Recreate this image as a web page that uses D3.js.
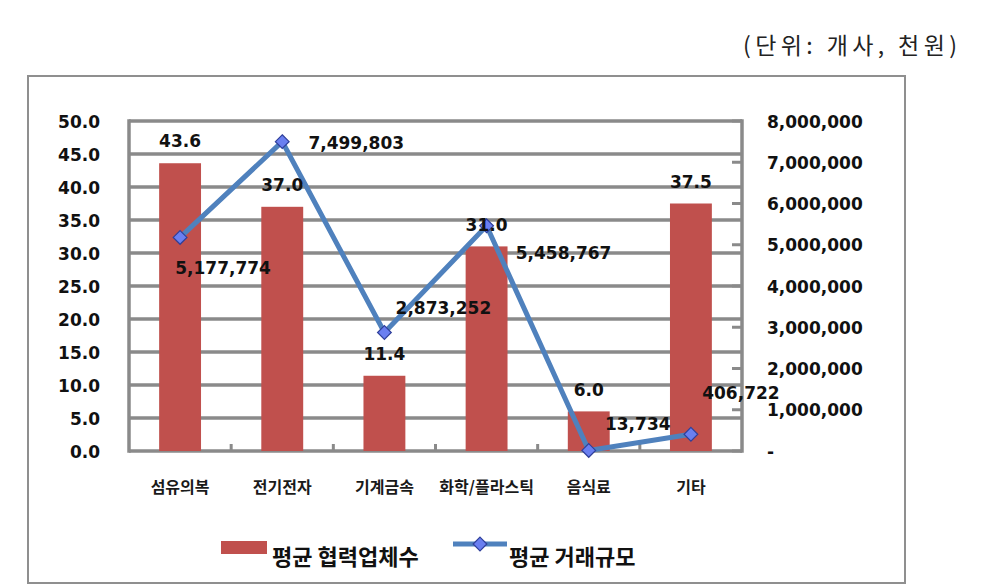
<!DOCTYPE html>
<html>
<head>
<meta charset="utf-8">
<script src="https://cdn.jsdelivr.net/npm/d3@7"></script>
<style>
  body { margin: 0; background: #fff; }
  svg { display: block; }
  .num { font-family: "DejaVu Sans", Verdana, sans-serif; font-weight: bold; font-size: 17px; fill: #111; }
  .kr { font-family: "Noto Sans CJK KR", sans-serif; fill: #111; }
</style>
</head>
<body>
<script>
// data
var categories = ["섬유의복", "전기전자", "기계금속", "화학/플라스틱", "음식료", "기타"];
var partnerCount = [43.6, 37.0, 11.4, 31.0, 6.0, 37.5];           // 평균 협력업체수 (개사)
var tradeSize = [5177774, 7499803, 2873252, 5458767, 13734, 406722]; // 평균 거래규모 (천원)
var leftTicks = [0, 5, 10, 15, 20, 25, 30, 35, 40, 45, 50];
var rightTicks = [0, 1000000, 2000000, 3000000, 4000000, 5000000, 6000000, 7000000, 8000000];
var seriesNames = ["평균 협력업체수", "평균 거래규모"];

// label offsets for the line values (label centre relative to point)
var lineLabelOffset = [[43, 30], [74, 1], [59, -25], [77, 27], [49, -27], [50, -41]];

var W = 992, H = 587;
var plot = {left: 129, right: 742, top: 121, bottom: 451};
var gridColor = "#8a8a8a", barColor = "#c0504d", lineColor = "#4f81bd";

var svg = d3.select("body").append("svg")
    .attr("width", W)
    .attr("height", H);

// outer frame
svg.append("rect")
    .attr("x", 28).attr("y", 76)
    .attr("width", 877).attr("height", 507)
    .attr("fill", "none")
    .attr("stroke", "#8f8f8f")
    .attr("stroke-width", 2);

// unit note
svg.append("text")
    .attr("x", 743).attr("y", 54)
    .attr("textLength", 214)
    .attr("lengthAdjust", "spacing")
    .style("font-family", "\"Noto Sans CJK KR\", sans-serif")
    .style("font-size", "23px")
    .style("fill", "#222")
    .text("(단위: 개사, 천원)");

var x = d3.scaleBand()
    .domain(categories)
    .range([plot.left, plot.right])
    .paddingInner(0.59)
    .paddingOuter(0.295);

var yL = d3.scaleLinear().domain([0, 50]).range([plot.bottom, plot.top]);
var yR = d3.scaleLinear().domain([0, 8000000]).range([plot.bottom, plot.top]);

// gridlines
svg.append("g")
    .selectAll("line")
    .data(leftTicks)
    .enter().append("line")
    .attr("x1", plot.left).attr("x2", plot.right)
    .attr("y1", function(d) { return yL(d); })
    .attr("y2", function(d) { return yL(d); })
    .attr("stroke", gridColor)
    .attr("stroke-width", 3.5);

// plot area sides
svg.append("g")
    .selectAll("line")
    .data([plot.left, plot.right])
    .enter().append("line")
    .attr("x1", function(d) { return d; })
    .attr("x2", function(d) { return d; })
    .attr("y1", plot.top - 1.75).attr("y2", plot.bottom + 1.75)
    .attr("stroke", gridColor)
    .attr("stroke-width", 3.5);

// category ticks
svg.append("g")
    .selectAll("line")
    .data(categories.slice(1))
    .enter().append("line")
    .attr("x1", function(d) { return x(d) - x.step() * x.paddingInner() / 2; })
    .attr("x2", function(d) { return x(d) - x.step() * x.paddingInner() / 2; })
    .attr("y1", plot.bottom).attr("y2", plot.bottom - 7)
    .attr("stroke", gridColor)
    .attr("stroke-width", 3);

// right axis ticks
svg.append("g")
    .selectAll("line")
    .data(rightTicks)
    .enter().append("line")
    .attr("x1", plot.right - 10).attr("x2", plot.right)
    .attr("y1", function(d) { return yR(d); })
    .attr("y2", function(d) { return yR(d); })
    .attr("stroke", gridColor)
    .attr("stroke-width", 3);

// left axis labels
var leftAxis = d3.axisLeft(yL)
    .tickValues(leftTicks)
    .tickFormat(d3.format(".1f"))
    .tickSize(0)
    .tickPadding(29);
var gL = svg.append("g")
    .attr("transform", "translate(" + plot.left + ",0)")
    .call(leftAxis);
gL.select(".domain").remove();
gL.selectAll("text").attr("class", "num").attr("dy", "0.36em");

// right axis labels
var rightAxis = d3.axisRight(yR)
    .tickValues(rightTicks)
    .tickFormat(function(d) { return d === 0 ? "-" : d3.format(",")(d); })
    .tickSize(0)
    .tickPadding(25);
var gR = svg.append("g")
    .attr("transform", "translate(" + plot.right + ",0)")
    .call(rightAxis);
gR.select(".domain").remove();
gR.selectAll("text").attr("class", "num").attr("dy", "0.36em");

// category labels
var xAxis = d3.axisBottom(x).tickSize(0).tickPadding(31);
var gX = svg.append("g")
    .attr("transform", "translate(0," + plot.bottom + ")")
    .call(xAxis);
gX.select(".domain").remove();
gX.selectAll("text")
    .attr("class", "kr")
    .style("font-size", "16px")
    .style("font-weight", "bold")
    .style("fill", "#1a1a1a");

// bars
svg.append("g")
    .selectAll("rect")
    .data(partnerCount)
    .enter().append("rect")
    .attr("x", function(d, i) { return x(categories[i]); })
    .attr("y", function(d) { return yL(d); })
    .attr("width", x.bandwidth())
    .attr("height", function(d) { return yL(0) - yL(d); })
    .attr("fill", barColor);

// line
var line = d3.line()
    .x(function(d, i) { return x(categories[i]) + x.bandwidth() / 2; })
    .y(function(d) { return yR(d); });

svg.append("path")
    .datum(tradeSize)
    .attr("d", line)
    .attr("fill", "none")
    .attr("stroke", lineColor)
    .attr("stroke-width", 5)
    .attr("stroke-linejoin", "miter");

var diamond = d3.symbol().type(d3.symbolDiamond2).size(120);
svg.append("g")
    .selectAll("path")
    .data(tradeSize)
    .enter().append("path")
    .attr("d", diamond)
    .attr("transform", function(d, i) {
        return "translate(" + (x(categories[i]) + x.bandwidth() / 2) + "," + yR(d) + ")"; })
    .attr("fill", "#6a7ff0")
    .attr("stroke", "#2f3f9a")
    .attr("stroke-width", 1.2);

// bar value labels
svg.append("g")
    .selectAll("text")
    .data(partnerCount)
    .enter().append("text")
    .attr("class", "num")
    .attr("x", function(d, i) { return x(categories[i]) + x.bandwidth() / 2; })
    .attr("y", function(d) { return yL(d) - 22; })
    .attr("dy", "0.36em")
    .attr("text-anchor", "middle")
    .text(function(d) { return d3.format(".1f")(d); });

// line value labels
svg.append("g")
    .selectAll("text")
    .data(tradeSize)
    .enter().append("text")
    .attr("class", "num")
    .attr("x", function(d, i) { return x(categories[i]) + x.bandwidth() / 2 + lineLabelOffset[i][0]; })
    .attr("y", function(d, i) { return yR(d) + lineLabelOffset[i][1]; })
    .attr("dy", "0.36em")
    .attr("text-anchor", "middle")
    .text(function(d) { return d3.format(",")(d); });

// legend
var legend = svg.append("g").attr("class", "legend");
legend.append("rect")
    .attr("x", 221).attr("y", 541)
    .attr("width", 46).attr("height", 13)
    .attr("fill", barColor);
legend.append("text")
    .attr("class", "kr")
    .attr("x", 272).attr("y", 565)
    .style("font-size", "22px")
    .style("font-weight", "bold")
    .text(seriesNames[0]);
legend.append("line")
    .attr("x1", 453).attr("x2", 507)
    .attr("y1", 544).attr("y2", 544)
    .attr("stroke", lineColor)
    .attr("stroke-width", 5);
legend.append("path")
    .attr("d", diamond)
    .attr("transform", "translate(480,544)")
    .attr("fill", "#6a7ff0")
    .attr("stroke", "#2f3f9a")
    .attr("stroke-width", 1.2);
legend.append("text")
    .attr("class", "kr")
    .attr("x", 509).attr("y", 565)
    .style("font-size", "22px")
    .style("font-weight", "bold")
    .text(seriesNames[1]);
</script>
</body>
</html>
